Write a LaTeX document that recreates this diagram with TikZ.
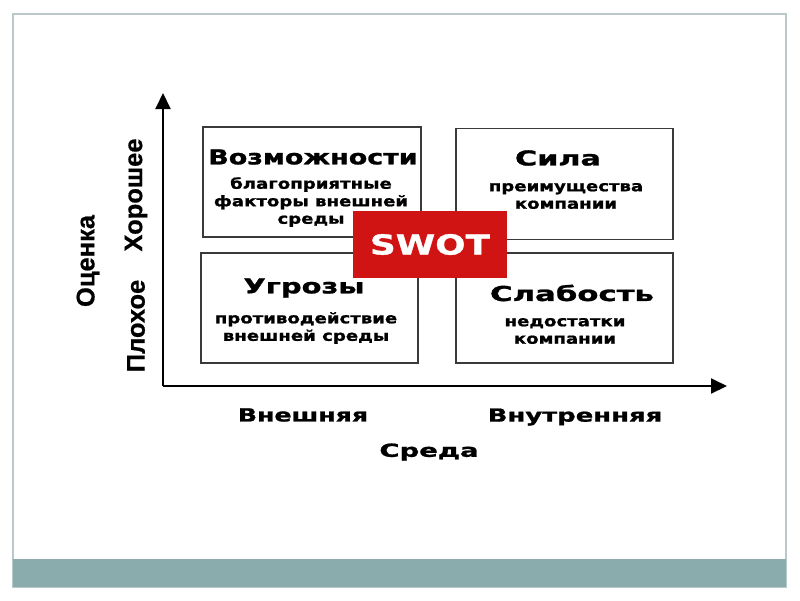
\documentclass[tikz,border=0pt]{standalone}
\usepackage{fontspec}
\usepackage{graphicx}
\usetikzlibrary{arrows.meta}
\newfontfamily\gothic{DejaVu Sans}[FakeStretch=1.25, BoldFeatures={FakeBold=1.2}]
\newfontfamily\arialb{Liberation Sans}[BoldFeatures={FakeBold=0.6}]
\newcommand{\sx}[2]{\scalebox{#1}[1]{#2}}
\definecolor{frameline}{HTML}{B9C9C9}
\definecolor{teal}{HTML}{8BACAC}
\definecolor{boxline}{HTML}{3A3A3A}
\definecolor{swotred}{HTML}{D01414}
\tikzset{
  quad/.style={draw=boxline, line width=1.8pt, minimum width=#1, inner sep=0pt},
  ttl/.style={font=\gothic\bfseries\fontsize{20.5}{22}\selectfont, inner sep=0pt},
  sub/.style={font=\gothic\bfseries\fontsize{14.5}{17.5}\selectfont, align=center, inner sep=0pt},
  axlab/.style={font=\gothic\bfseries\fontsize{18}{20}\selectfont, inner sep=0pt},
  vlab/.style={font=\arialb\bfseries\fontsize{25.5}{27}\selectfont, rotate=90, inner sep=0pt},
  axis/.style={line width=2pt, black, -{Triangle[length=16pt,width=15pt]}}
}
\begin{document}
\begin{tikzpicture}[x=1pt,y=-1pt]
\useasboundingbox (0,0) rectangle (800,600);
\fill[white] (0,0) rectangle (800,600);
% slide frame
\draw[frameline, line width=1.5pt] (13,14) rectangle (786,587);
\fill[teal] (13,559) rectangle (786,587);
% axes
\coordinate (o) at (163,386);
\coordinate (ytip) at (163,93);
\coordinate (xtip) at (727,386);
\draw[axis] (o) -- (ytip);
\draw[axis] (o) -- (xtip);
% boxes
\node[quad=218pt, minimum height=110pt] (opp) at (312,182) {};
\node[quad=217pt, minimum height=111pt] (str) at (564.5,184) {};
\node[quad=217pt, minimum height=110pt] (thr) at (309.5,308) {};
\node[quad=217pt, minimum height=110pt] (wea) at (564.5,308) {};
% texts
\node[ttl] (oppt) at (313,157) {\sx{1.05}{Возможности}};
\node[ttl] (strt) at (558,158) {\sx{1.18}{Сила}};
\node[ttl] (thrt) at (304,288) {\sx{1.13}{Угрозы}};
\node[ttl] (weat) at (572,293) {\sx{1.2}{Слабость}};
\node[sub] (opps) at (311,202) {благоприятные\\факторы внешней\\среды};
\node[sub] (strs) at (566,196) {преимущества\\компании};
\node[sub] (thrs) at (306,328) {противодействие\\внешней среды};
\node[sub] (weas) at (565,331) {недостатки\\компании};
% SWOT
\node[fill=swotred, minimum width=154pt, minimum height=67pt, inner sep=0pt,
      font=\gothic\bfseries\fontsize{27.5}{29}\selectfont, text=white] (swot) at (430,244.5) {\sx{1.04}{SWOT}};
% axis labels
\node[axlab] (ext) at (303,415) {\sx{1.12}{Внешняя}};
\node[axlab] (int) at (575,417) {\sx{1.15}{Внутренняя}};
\node[axlab] (env) at (429,452) {\sx{1.22}{Среда}};
\node[vlab] (eval) at (88,261) {Оценка};
\node[vlab] (good) at (136,195) {Хорошее};
\node[vlab] (bad) at (136,326) {Плохое};
\end{tikzpicture}
\end{document}
